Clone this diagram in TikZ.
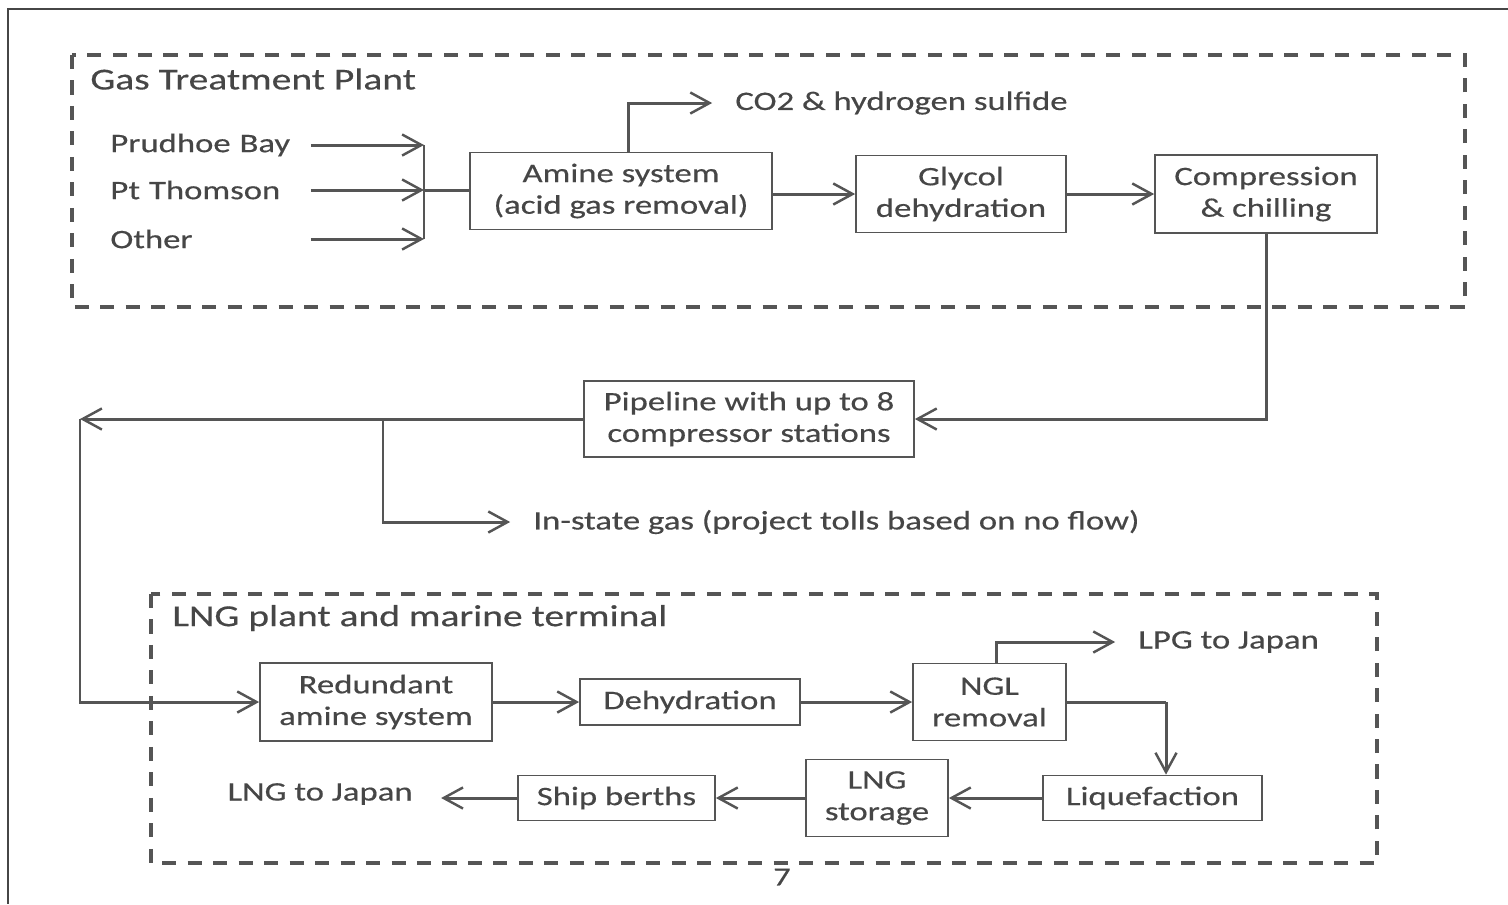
\documentclass[tikz,border=0pt]{standalone}
\usepackage{fontspec}
\setmainfont{Carlito}[FakeStretch=1.3, FakeBold=0.4]
\usetikzlibrary{arrows.meta}
\definecolor{txt}{HTML}{464646}
\definecolor{ln}{HTML}{555555}
\tikzset{
  box/.style={draw=ln, line width=1pt, text=txt, align=center, inner sep=0pt,
              font=\fontsize{15.2}{18}\selectfont},
  lbl/.style={text=txt, inner sep=0pt, font=\fontsize{15.2}{18}\selectfont},
  src/.style={lbl, anchor=west, text width=3.9cm, align=left},
  ttl/.style={text=txt, inner sep=0pt, anchor=west, font=\fontsize{17.3}{20}\selectfont},
  flow/.style={draw=ln, line width=1.7pt,
               -{Straight Barb[length=11pt,width=12pt,line width=1.4pt]}},
  plain/.style={draw=ln, line width=1.7pt},
  zone/.style={draw=ln, line width=2.2pt, dash pattern=on 8pt off 6.5pt},
}
\begin{document}
\begin{tikzpicture}[x=0.02cm, y=-0.02cm]
\useasboundingbox (0,0) rectangle (1508,904);

% page frame
\draw[line width=0.8pt, color=txt] (1508,9) -- (8,9) -- (8,904);

% plant boundaries
\draw[zone] (72,55) rectangle (1465,307);
\draw[zone] (151,594) rectangle (1377,863);
\node[ttl] (gtp) at (90,79) {Gas Treatment Plant};
\node[ttl] (lngp) at (172,618) {LNG plant and marine terminal};

% gas treatment plant
\node[src] (prudhoe) at (110,145) {Prudhoe Bay};
\node[src] (thomson) at (110,190) {Pt Thomson};
\node[src] (other) at (110,239) {Other};
\coordinate (j1) at (424,145);
\coordinate (j2) at (424,190);
\coordinate (j3) at (424,239);

\node[box, minimum width=6.04cm, minimum height=1.54cm] (amine) at (621,191)
  {Amine system\\(acid gas removal)};
\node[box, minimum width=4.2cm, minimum height=1.54cm] (glycol) at (961,194)
  {Glycol\\dehydration};
\node[box, minimum width=4.44cm, minimum height=1.56cm] (comp) at (1266,194)
  {Compression\\\& chilling};
\node[lbl, anchor=west] (co2) at (735,103) {CO2 \& hydrogen sulfide};

\draw[flow, shorten <=3pt] (prudhoe.east) -- (j1);
\draw[flow, shorten <=3pt] (thomson.east) -- (j2);
\draw[flow, shorten <=3pt] (other.east) -- (j3);
\draw[plain] (j1) -- (j3);
\draw[plain] (j2) -- (amine.west |- j2);
\draw[flow, shorten >=13pt] ([xshift=4]amine.north) |- (co2.west);
\draw[flow] (amine.east |- glycol.west) -- (glycol.west);
\draw[flow] (glycol.east) -- (comp.west);

% pipeline
\node[box, minimum width=6.6cm, minimum height=1.52cm] (pipe) at (749,419)
  {Pipeline with up to 8\\compressor stations};
\node[lbl, anchor=west] (instate) at (533,522) {In-state gas (project tolls based on no flow)};
\coordinate (corner) at (80,419);
\coordinate (branch) at (383,419);
\draw[flow] (comp.south) |- (pipe.east);
\draw[flow] (pipe.west) -- (corner);
\draw[flow, shorten >=13pt] (branch) |- (instate.west);

% LNG plant and marine terminal
\node[box, minimum width=4.64cm, minimum height=1.56cm] (redund) at (376,702)
  {Redundant\\amine system};
\node[box, minimum width=4.4cm, minimum height=0.92cm] (dehyd) at (690,702)
  {Dehydration};
\node[box, minimum width=3.06cm, minimum height=1.54cm] (ngl) at (989.5,702)
  {NGL\\removal};
\node[box, minimum width=4.38cm, minimum height=0.9cm] (liq) at (1152.5,798)
  {Liquefaction};
\node[box, minimum width=2.84cm, minimum height=1.54cm] (store) at (877,798)
  {LNG\\storage};
\node[box, minimum width=3.94cm, minimum height=0.9cm] (ship) at (616.5,798)
  {Ship berths};
\node[lbl, anchor=west] (lpg) at (1138,642) {LPG to Japan};
\node[lbl, anchor=east] (lngj) at (413,794) {LNG to Japan};
\coordinate (bend) at (1166,702);

\draw[flow] (corner) |- (redund.west);
\draw[flow] (redund.east) -- (dehyd.west);
\draw[flow] (dehyd.east) -- (ngl.west);
\draw[flow, shorten >=13pt] ([xshift=4]ngl.north) |- (lpg.west);
\draw[plain] (ngl.east) -- (bend);
\draw[flow] (bend) -- (bend |- liq.north);
\draw[flow] (liq.west) -- (store.east);
\draw[flow] (store.west) -- (ship.east);
\draw[flow, shorten >=16pt] (ship.west) -- (ship.west -| lngj.east);

% page number
\node[text=txt, inner sep=0pt, font=\fontsize{15}{18}\selectfont] (page) at (782,877) {7};
\end{tikzpicture}
\end{document}
